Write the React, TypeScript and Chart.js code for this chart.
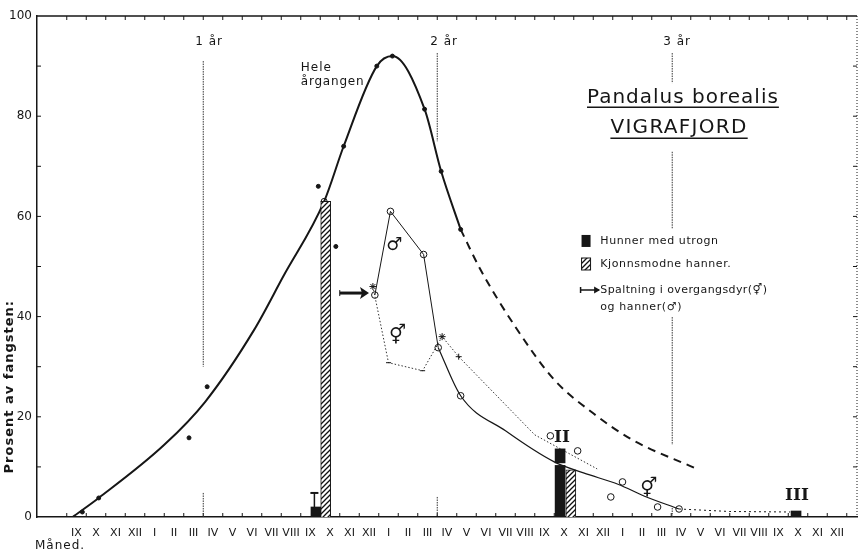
import { useEffect, useRef } from "react";
import { Chart, registerables } from "chart.js";
Chart.register(...registerables);

// ---- categories / ticks ----
const yearMonths = ["IX", "X", "XI", "XII", "I", "II", "III", "IV", "V", "VI", "VII", "VIII"];
const monthLabels = [...yearMonths, ...yearMonths, ...yearMonths, "IX", "X", "XI", "XII"];
const yTickValues = [0, 20, 40, 60, 80, 100];

// ---- Hele årgangen (whole year class), x = months since start of first IX ----
const heleX = [0.3, 1.64, 5.0, 7.1, 9.6, 11.1, 13.2, 14.2, 15.9, 16.7, 18.35, 19.2, 20.2];
const heleY = [0, 3.8, 14.4, 23, 37.3, 48, 63, 74, 90, 92, 81.4, 69, 57.4];
const heleDashX = [20.2, 21.2, 23, 25, 27, 29, 32.2];
const heleDashY = [57.4, 49.5, 38, 27.4, 20.7, 15.4, 9.8];
const heleDotX = [0.8, 1.64, 6.27, 7.2, 12.9, 13.8, 14.2, 15.9, 16.7, 18.35, 19.2, 20.2];
const heleDotY = [1, 3.8, 15.8, 26, 66, 54, 74, 90, 92, 81.4, 69, 57.4];
const heleCircleX = [13.2];
const heleCircleY = [63];

// ---- hanner (males) ----
const maleLineX = [15.8, 16.6, 18.3, 19.05];
const maleLineY = [44.3, 61, 52.4, 33.8];
const maleCurveX = [19.05, 20.2, 22.5, 25, 26.5, 28.3, 29.6, 31.4];
const maleCurveY = [33.8, 24.2, 17.2, 11, 8.8, 6.5, 4.2, 1.6];
const maleTailX = [31.4, 34, 37.1];
const maleTailY = [1.6, 1.1, 1];
const maleCircleX = [15.8, 16.6, 18.3, 19.05, 20.2, 31.4, 24.8, 26.2, 28.5, 27.9, 30.3];
const maleCircleY = [44.3, 61, 52.4, 33.8, 24.2, 1.6, 16.2, 13.2, 7, 4, 2];

// ---- overgangsdyr (transitionals) ----
const transX = [15.7, 16.5, 18.25, 19.25, 20.1, 24, 27.2];
const transY = [46, 30.8, 29.2, 36, 32, 16.4, 9.6];

// ---- bars ----
const hunnerX = [12.78, 25.3, 25.3, 37.4];
const hunnerLow = [0, 0, 10.8, 0];
const hunnerHigh = [2, 10.3, 13.6, 1.2];
const hunnerErrX = [12.7, 12.7];
const hunnerErrY = [2, 4.8];
const hannerX = [13.28, 25.85];
const hannerY = [63, 9.4];

const pts = (xs: number[], ys: number[]) => xs.map((x, i) => ({ x, y: ys[i] }));

function makeHatch(): CanvasPattern | string {
  const c = document.createElement("canvas");
  c.width = 5;
  c.height = 5;
  const g = c.getContext("2d");
  if (!g) return "#888";
  g.fillStyle = "#fff";
  g.fillRect(0, 0, 5, 5);
  g.strokeStyle = "#111";
  g.lineWidth = 1.3;
  g.beginPath();
  g.moveTo(0, 5);
  g.lineTo(5, 0);
  g.moveTo(-1, 1);
  g.lineTo(1, -1);
  g.moveTo(4, 6);
  g.lineTo(6, 4);
  g.stroke();
  return g.createPattern(c, "repeat") || "#888";
}

const FONT = "DejaVu Sans";

export default function App() {
  const ref = useRef<HTMLCanvasElement | null>(null);
  useEffect(() => {
    if (!ref.current) return;
    const hatch = makeHatch();
    const ink = "#161616";

    const deco = {
      id: "deco",
      beforeDatasetsDraw(chart: any) {
        const { ctx, chartArea: a, scales } = chart;
        const X = (m: number) => scales.x.getPixelForValue(m);
        const Y = (v: number) => scales.y.getPixelForValue(v);
        ctx.save();
        ctx.strokeStyle = ink;
        const seg = (x1: number, y1: number, x2: number, y2: number) => {
          ctx.beginPath();
          ctx.moveTo(x1, y1);
          ctx.lineTo(x2, y2);
          ctx.stroke();
        };
        // top frame
        ctx.lineWidth = 1.5;
        seg(a.left, a.top, a.right, a.top);
        // right dotted frame
        ctx.lineWidth = 1;
        ctx.setLineDash([1, 2]);
        seg(a.right, a.top, a.right, a.bottom);
        ctx.setLineDash([]);
        // month ticks
        ctx.lineWidth = 1;
        for (let m = 0; m <= 40; m++) {
          const px = X(m);
          if (px > a.right) continue;
          seg(px, a.bottom, px, a.bottom - 4);
          seg(px, a.top, px, a.top + 4);
        }
        // value ticks
        for (let v = 10; v < 100; v += 10) {
          seg(a.left, Y(v), a.left + 4, Y(v));
          seg(a.right, Y(v), a.right - 4, Y(v));
        }
        // year lines
        ctx.strokeStyle = "#333";
        ctx.setLineDash([1.5, 1]);
        const yearSegs: [number, number, number][] = [
          [7, 91, 30], [7, 4.8, 0],
          [19, 92.6, 75], [19, 4, 0],
          [31.05, 92.6, 86.6], [31.05, 72.9, 57.5], [31.05, 39.9, 14.4], [31.05, 1.8, 0],
        ];
        yearSegs.forEach(([m, v1, v2]) => seg(X(m), Y(v1), X(m), Y(v2)));
        ctx.setLineDash([]);
        ctx.restore();
      },
      afterDatasetsDraw(chart: any) {
        const { ctx, scales } = chart;
        const X = (m: number) => scales.x.getPixelForValue(m);
        const Y = (v: number) => scales.y.getPixelForValue(v);
        ctx.save();
        ctx.fillStyle = ink;
        ctx.strokeStyle = ink;
        ctx.textBaseline = "middle";
        const text = (s: string, m: number, v: number, font: string, align: CanvasTextAlign = "center", ls = "0px") => {
          ctx.font = font;
          (ctx as any).letterSpacing = ls;
          ctx.textAlign = align;
          ctx.fillText(s, X(m), Y(v));
          (ctx as any).letterSpacing = "0px";
        };
        // year labels
        text("1 år", 7.3, 94.8, `12px ${FONT}`, "center", "1px");
        text("2 år", 19.35, 94.8, `12px ${FONT}`, "center", "1px");
        text("3 år", 31.3, 94.8, `12px ${FONT}`, "center", "1px");
        // Hele årgangen
        text("Hele", 12.0, 89.6, `12px ${FONT}`, "left", "1px");
        text("årgangen", 12.0, 86.8, `12px ${FONT}`, "left", "0.8px");
        // symbols
        text("♂", 16.8, 54.3, `18px ${FONT}`);
        text("⚥", 16.96, 36.1, `19px ${FONT}`);
        text("⚥", 29.85, 5.6, `19px ${FONT}`);
        text("II", 25.4, 15.8, `bold 17px "DejaVu Serif"`);
        text("III", 37.45, 4.2, `bold 17px "DejaVu Serif"`);
        // title
        ctx.lineWidth = 1.5;
        const titled = (s: string, m: number, v: number, uv: number, ls: string) => {
          ctx.font = `20px ${FONT}`;
          (ctx as any).letterSpacing = ls;
          const w = ctx.measureText(s).width;
          (ctx as any).letterSpacing = "0px";
          text(s, m, v, `20px ${FONT}`, "center", ls);
          ctx.beginPath();
          ctx.moveTo(X(m) - w / 2, Y(uv));
          ctx.lineTo(X(m) + w / 2, Y(uv));
          ctx.stroke();
        };
        titled("Pandalus borealis", 31.6, 83.6, 81.8, "1px");
        titled("VIGRAFJORD", 31.4, 77.6, 75.6, "1.3px");
        // legend
        const boxL = X(26.4);
        const boxW = 9;
        const tx = 27.36;
        const rows = [55.1, 50.5, 45.3, 41.9];
        ctx.fillStyle = ink;
        ctx.fillRect(boxL, Y(rows[0]) - 6, boxW, 12);
        ctx.fillStyle = hatch as any;
        ctx.fillRect(boxL, Y(rows[1]) - 6, boxW, 12);
        ctx.lineWidth = 1;
        ctx.strokeRect(boxL, Y(rows[1]) - 6, boxW, 12);
        ctx.fillStyle = ink;
        text("Hunner med utrogn", tx, rows[0], `11px ${FONT}`, "left", "0.6px");
        text("Kjonnsmodne hanner.", tx, rows[1], `11px ${FONT}`, "left", "0.6px");
        text("Spaltning i overgangsdyr(⚥)", tx, rows[2], `11px ${FONT}`, "left", "0.4px");
        text("og hanner(♂)", tx, rows[3], `11px ${FONT}`, "left", "0.6px");
        // legend arrow
        const ay = Y(rows[2]);
        const ax1 = X(26.35);
        const ax2 = X(27.3);
        ctx.lineWidth = 1.5;
        ctx.beginPath();
        ctx.moveTo(ax1, ay - 3);
        ctx.lineTo(ax1, ay + 3);
        ctx.moveTo(ax1, ay);
        ctx.lineTo(ax2, ay);
        ctx.stroke();
        ctx.beginPath();
        ctx.moveTo(ax2 + 1, ay);
        ctx.lineTo(ax2 - 5, ay - 3.5);
        ctx.lineTo(ax2 - 5, ay + 3.5);
        ctx.closePath();
        ctx.fill();
        // chart arrow to split point
        const cy = Y(44.7);
        const c1 = X(14.0);
        const c2 = X(15.5);
        ctx.lineWidth = 3;
        ctx.beginPath();
        ctx.moveTo(c1, cy);
        ctx.lineTo(c2 - 6, cy);
        ctx.stroke();
        ctx.lineWidth = 1;
        ctx.beginPath();
        ctx.moveTo(c1, cy - 3);
        ctx.lineTo(c1, cy + 3);
        ctx.stroke();
        ctx.beginPath();
        ctx.moveTo(c2, cy);
        ctx.lineTo(c2 - 9, cy - 6);
        ctx.lineTo(c2 - 7, cy);
        ctx.lineTo(c2 - 9, cy + 6);
        ctx.closePath();
        ctx.fill();
        // axis titles
        ctx.font = `bold 13px ${FONT}`;
        (ctx as any).letterSpacing = "1px";
        ctx.textAlign = "center";
        ctx.save();
        ctx.translate(10, Y(26));
        ctx.rotate(-Math.PI / 2);
        ctx.fillText("Prosent av fangsten:", 0, 0);
        ctx.restore();
        ctx.font = `12px ${FONT}`;
        ctx.textAlign = "left";
        ctx.fillText("Måned.", 35, 546);
        (ctx as any).letterSpacing = "0px";
        ctx.restore();
      },
    };

    const chart = new Chart(ref.current, {
      type: "line",
      data: {
        datasets: [
          {
            type: "bar",
            data: hannerX.map((x, i) => ({ x, y: hannerY[i] })),
            backgroundColor: hatch as any,
            borderColor: ink,
            borderWidth: 1,
            barThickness: 10,
            grouped: false,
          } as any,
          {
            type: "bar",
            data: hunnerX.map((x, i) => ({ x, y: [hunnerLow[i], hunnerHigh[i]] })),
            backgroundColor: ink,
            borderWidth: 0,
            barThickness: 10,
            grouped: false,
          } as any,
          {
            data: pts(hunnerErrX, hunnerErrY),
            borderColor: ink,
            borderWidth: 1.5,
            pointStyle: "line",
            pointRadius: [0, 4],
            pointBorderWidth: 2,
            pointBorderColor: ink,
          },
          {
            data: pts(heleX, heleY),
            borderColor: ink,
            borderWidth: 2,
            cubicInterpolationMode: "monotone",
            pointRadius: 0,
          },
          {
            data: pts(heleDashX, heleDashY),
            borderColor: ink,
            borderWidth: 2,
            borderDash: [8, 6],
            cubicInterpolationMode: "monotone",
            pointRadius: 0,
          },
          {
            data: pts(maleLineX, maleLineY),
            borderColor: ink,
            borderWidth: 1,
            tension: 0,
            pointRadius: 0,
          },
          {
            data: pts(maleCurveX, maleCurveY),
            borderColor: ink,
            borderWidth: 1.2,
            cubicInterpolationMode: "monotone",
            pointRadius: 0,
          },
          {
            data: pts(maleTailX, maleTailY),
            borderColor: ink,
            borderWidth: 1,
            borderDash: [2, 3],
            pointRadius: 0,
          },
          {
            data: pts(transX, transY),
            borderColor: "#333",
            borderWidth: 1,
            borderDash: [1.5, 2],
            tension: 0,
            pointStyle: ["star", "line", "line", "star", "cross", false, false] as any,
            pointRadius: [3.5, 2.5, 2.5, 3.5, 3, 0, 0],
            pointBorderColor: ink,
            pointBorderWidth: 1,
          },
          {
            data: pts(heleDotX, heleDotY),
            showLine: false,
            pointRadius: 2,
            pointBackgroundColor: ink,
            pointBorderColor: ink,
          },
          {
            data: pts(heleCircleX, heleCircleY),
            showLine: false,
            pointRadius: 3,
            pointBackgroundColor: "#fff",
            pointBorderColor: ink,
            pointBorderWidth: 1,
          },
          {
            data: pts(maleCircleX, maleCircleY),
            showLine: false,
            pointRadius: 3.3,
            pointBackgroundColor: "#fff",
            pointBorderColor: ink,
            pointBorderWidth: 1,
          },
        ],
      },
      options: {
        responsive: false,
        animation: false,
        layout: { padding: { top: 16, right: 2, left: 0, bottom: 0 } },
        plugins: { legend: { display: false }, tooltip: { enabled: false } },
        scales: {
          x: {
            type: "linear",
            min: -1,
            max: 40,
            grid: { display: false, drawTicks: false },
            border: { display: true, color: ink, width: 1.5 },
            afterBuildTicks: (axis: any) => {
              axis.ticks = monthLabels.map((_, i) => ({ value: i + 0.5 }));
            },
            afterFit: (axis: any) => {
              axis.height = 36;
            },
            ticks: {
              autoSkip: false,
              maxRotation: 0,
              padding: 10,
              color: ink,
              font: { family: FONT, size: 11 },
              callback: (v: any) => monthLabels[Math.floor(Number(v))] ?? "",
            },
          },
          y: {
            min: 0,
            max: 100,
            grid: { display: false, drawTicks: false },
            border: { display: true, color: ink, width: 1.5 },
            afterBuildTicks: (axis: any) => {
              axis.ticks = yTickValues.map((value) => ({ value }));
            },
            afterFit: (axis: any) => {
              axis.width = 37;
            },
            ticks: {
              padding: 5,
              color: ink,
              font: { family: FONT, size: 12 },
            },
          },
        },
      },
      plugins: [deco],
    } as any);
    return () => chart.destroy();
  }, []);

  return (
    <div style={{ position: "fixed", left: 0, top: 0, width: 863, height: 553, background: "#fff" }}>
      <canvas ref={ref} width={863} height={553} />
    </div>
  );
}
